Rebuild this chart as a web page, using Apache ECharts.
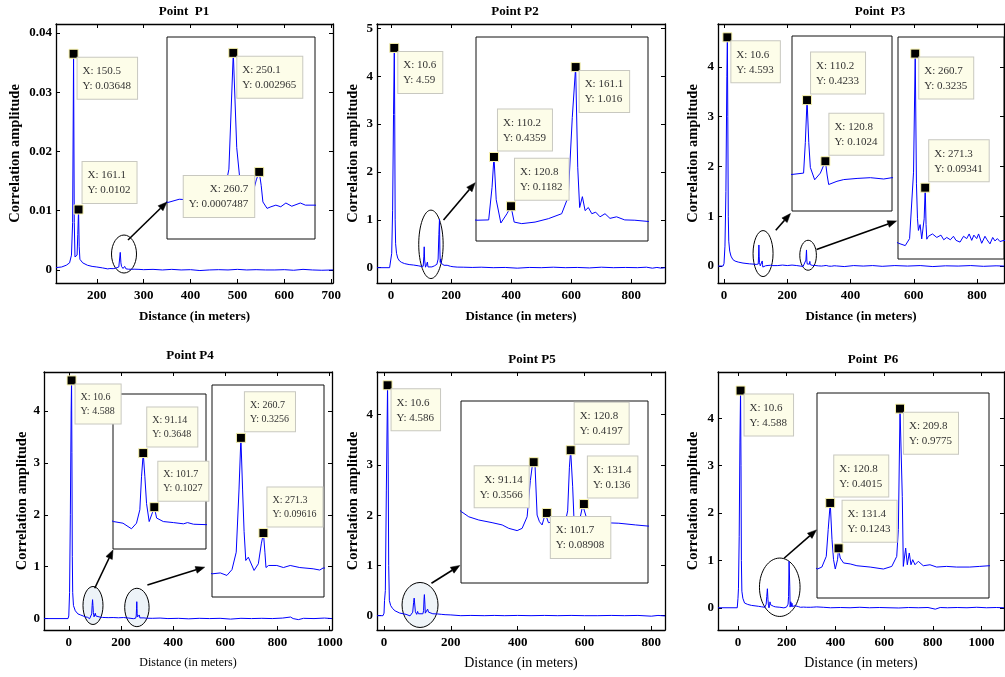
<!DOCTYPE html>
<html>
<head>
<meta charset="utf-8">
<script src="https://cdn.jsdelivr.net/npm/echarts@6/dist/echarts.min.js"></script>
<style>
  html, body { margin: 0; padding: 0; background: #fff; }
  #main { width: 1005px; height: 677px; }
</style>
</head>
<body>
<div id="main"></div>
<script>
// ---- data: [distance (m), correlation amplitude] ----
const p1Curve = [[113,0.0004],[125,0.0005],[135,0.0008],[142,0.0012],[146,0.0025],[148.5,0.008],[150.5,0.03648],[152,0.008],[153.5,0.0022],[156,0.0021],[158,0.0025],[159.5,0.006],[161.1,0.0102],[162.5,0.004],[164,0.0018],[170,0.0012],[180,0.0008],[190,0.0006],[200,0.0005],[212,0.00035],
  [223.4,0.00018],[228,0.00024],[235,0.00022],[240,0.0003],[244,0.0004],[247,0.0005],[248.3,0.0008],[250.1,0.002965],[251.5,0.0012],[252.8,0.0006],[254,0.0003],[256,0.00025],[258.1,0.00035],[259.5,0.0006],[260.7,0.0007487],[261.5,0.0005],[262.2,0.00019],[263.9,0.00007],[265.5,0.0001],[267.5,0.00013],[269.5,0.0001],[271.6,0.00017],[274,0.00011],[277.5,0.00017],[279.6,0.00013],[283.5,0.00013],
  [290,0.0001],[300,0.00005],[320,0.0001],[340,0],[360,0.0001],[380,0],[400,0.00005],[420,-0.0001],[440,0],[460,0.00005],[480,0],[500,0.0001],[520,0],[540,0.00005],[560,0],[580,0],[600,0.00005],[620,-0.00005],[640,0.0001],[660,0],[680,-0.00005],[704,0]];
const p2Curve = [[-47,0],[-5,0],[-1,0.02],[2,0.3],[5,1.2],[8,3.2],[10.6,4.59],[12,3.2],[13.5,1.0],[15,0.5],[18,0.3],[22,0.2],[28,0.14],[35,0.11],[45,0.085],[60,0.065],[75,0.055],[90,0.04],
  [99.6,0.028],[106.9,0.03],[109,0.24],[110.2,0.4359],[111.6,0.16],[114.5,0.01],[118.3,0.07],[120.8,0.1182],[122.8,0.016],[127.5,0.006],[135.8,0.016],[144.1,0.038],[152.4,0.07],[156.5,0.18],[159,0.69],[161.1,1.016],[162.4,0.37],[163.6,0.11],[165.3,0.18],[167,0.09],[169,0.11],[171.2,0.07],[173.6,0.08],[176.3,0.05],[179.4,0.07],[182.5,0.04],[186.6,0.05],[191.7,0.03],[198,0.028],[206.3,0.02],
  [220,0.012],[240,0.01],[270,0.005],[300,0.01],[340,0],[380,0.005],[420,-0.01],[460,0.005],[500,0],[540,0.01],[580,0],[620,0.005],[660,-0.005],[700,0.01],[740,0],[780,0.005],[820,0],[850,0.01],[870,-0.01],[885,0.005],[900,-0.01],[912,0]];
const p3Curve = [[-19,0],[-3,0],[0,0.05],[3,0.4],[6,1.5],[9,3.8],[10.6,4.593],[12,3.0],[13.5,1.0],[15,0.5],[18,0.3],[22,0.2],[28,0.13],[35,0.1],[45,0.08],[60,0.06],[80,0.045],[95,0.038],
  [101.5,0.033],[108.2,0.04],[109.2,0.2],[110.2,0.4233],[111.2,0.2],[112.1,0.07],[114.6,0.005],[117.9,0.04],[120.8,0.1024],[121.8,0.03],[122.7,-0.02],[127.5,-0.003],[131.4,0.006],[139.1,0.012],[146.8,0.016],[154.5,0.009],[159.3,0.016],
  [170,0.01],[185,0.02],[200,0.01],[215,0.02],[230,0.01],
  [243,-0.002],[250.1,-0.006],[254.7,0.006],[258.9,0.12],[260.7,0.3235],[262,0.1],[263.1,0.04],[264.1,0.02],[265.9,0.03],[267.6,0.0055],[270.2,0.04],[271.3,0.09341],[272.2,0.03],[273,0.005],[274.7,0.01],[279,0.014],[283.6,0.008],[288,0.012],[291,0.004],[294.2,0.008],[298,0.004],[301.3,0.01],[304,0.003],[308.3,0],[312,0.01],[315.4,0.006],[318,0.014],[320.7,0.003],[323,0.012],[326,0.006],[328,0.014],[331.3,-0.002],[334.8,0.01],[337,0.004],[340.1,-0.003],[343,0.008],[345.4,0.002],[348,0.006],[350.7,0.001],[355,0.003],
  [380,-0.01],[410,0.01],[440,0],[470,0.01],[500,-0.005],[540,0.01],[580,0],[620,0.01],[660,-0.01],[700,0.005],[740,0],[780,0.01],[820,-0.005],[860,0.005],[885,0]];
const p4Curve = [[-95,0],[-3,0],[0,0.05],[3,0.5],[6,2.0],[9,4.0],[10.6,4.588],[12,3.2],[13.5,1.2],[15,0.5],[18,0.25],[25,0.15],[35,0.09],[45,0.07],[55,0.05],
  [62.8,0.033],[71.8,0.025],[79.9,-0.002],[84.7,0.025],[87.9,0.09],[89.5,0.25],[91.14,0.3648],[92.7,0.25],[94.3,0.12],[96.8,0.033],[99.1,0.065],[101.7,0.1027],[103.9,0.05],[110.3,0.033],[119.9,0.028],[129.5,0.022],[133.4,0.028],[139.1,0.02],[151,0.018],
  [170,0.02],[190,0.015],[210,0.02],[230,0.01],
  [247.4,-0.002],[251,0],[254.1,-0.006],[256.5,0.008],[258.5,0.05],[259.8,0.2],[260.7,0.3256],[261.5,0.2],[262.2,0.1],[263,0.03],[264.2,0.038],[265,0.034],[266.9,0.006],[268.9,0.022],[270.3,0.07],[271.3,0.09616],[272,0.05],[272.5,0.013],[273.7,0.018],[277.6,0.018],[280.7,0.013],[283.9,0.018],[288.4,0.013],[294.7,0.01],[297.8,0.007],[299.4,0.012],
  [320,0.005],[350,0.01],[380,0],[420,0.005],[460,-0.005],[500,0.005],[540,0],[580,0.005],[620,-0.01],[660,0.005],[700,0],[740,0.005],[780,0],[820,0.01],[850,0.03],[860,0],[880,-0.02],[900,0.005],[940,0],[980,0.01],[1009,0]];
const p5Curve = [[-21,0],[-3,0],[0,0.05],[1.5,0.3],[4,0.5],[7,2.5],[10.6,4.586],[12.5,3.0],[14,1.0],[16,0.3],[20,0.2],[26,0.14],
  [33.2,0.096],[39.1,0.069],[47.1,0.052],[57.8,0.038],[65.9,0.026],[71.2,0.008],[77.9,-0.004],[81.9,0.008],[85.9,0.069],[88.5,0.26],[90.3,0.35],[91.14,0.3566],[92.3,0.33],[93.9,0.078],[95.8,0.043],[97.9,0.026],[99.2,0.056],[100.5,0.085],[101.7,0.08908],[103,0.038],[108.4,0.043],[116.4,0.038],[118.4,0.1],[119.8,0.33],[120.8,0.4197],[122.4,0.23],[123.5,0.05],[125.9,0.043],[128.6,0.07],[130.5,0.13],[131.4,0.136],[133.2,0.07],[135.4,0.038],[146.1,0.038],[159.4,0.035],[172.8,0.026],[182.8,0.02],
  [200,0.015],[230,0],[260,0.005],[300,0],[330,0.005],[360,0],[400,0.005],[440,0],[480,0.005],[520,0],[560,0.005],[600,0],[640,0],[680,0.005],[720,0],[760,0.005],[800,-0.01],[820,0.005],[841,-0.005]];
const p6Curve = [[-82,0],[-3,0],[0,0.2],[2,0.4],[5,1.5],[8,3.5],[10.6,4.588],[12.5,3.0],[14,1.0],[16,0.35],[20,0.2],[27,0.1],[40,0.07],[55,0.05],[70,0.04],[85,0.03],[97,0.02],
  [104.5,-0.002],[110.1,0.01],[115.7,0.075],[118.2,0.24],[120.8,0.4015],[123,0.18],[125,0.055],[127.2,-0.002],[130.1,0.055],[131.4,0.1243],[133.5,0.065],[137.8,0.035],[146.3,0.029],[154.8,0.018],[171.7,0.01],[188.6,-0.002],[199.3,0.014],[205.6,0.075],[207.7,0.24],[209.8,0.9775],[212.7,0.44],[214,0.014],[217,0.126],[219.1,0.024],[221.6,0.096],[223.8,0.024],[226,0.055],[228.9,0.024],[233.1,0.045],[239.5,0.018],[248,0.024],[256.5,0.01],[269.2,0.014],[281.9,0.01],[298.8,0.01],[311.5,0.014],[323.3,0.018],
  [350,0.01],[380,0],[420,0.005],[460,0],[500,0.01],[540,0],[580,0.005],[620,0],[660,-0.005],[700,0.005],[740,0],[780,0.005],[810,-0.03],[830,0.005],[860,0],[900,0.005],[940,0],[980,0.01],[1020,0],[1060,0.005],[1092,0]];

// data tips (X, Y) as printed on the picture
const p1Tips = [[150.5,0.03648],[161.1,0.0102],[250.1,0.002965],[260.7,0.0007487]];
const p2Tips = [[10.6,4.59],[110.2,0.4359],[120.8,0.1182],[161.1,1.016]];
const p3Tips = [[10.6,4.593],[110.2,0.4233],[120.8,0.1024],[260.7,0.3235],[271.3,0.09341]];
const p4Tips = [[10.6,4.588],[91.14,0.3648],[101.7,0.1027],[260.7,0.3256],[271.3,0.09616]];
const p5Tips = [[10.6,4.586],[91.14,0.3566],[101.7,0.08908],[120.8,0.4197],[131.4,0.136]];
const p6Tips = [[10.6,4.588],[120.8,0.4015],[131.4,0.1243],[209.8,0.9775]];

// tick labels
const p1XTicks = [200,300,400,500,600,700];
const p1YTicks = [0,0.01,0.02,0.03,0.04];
const p2XTicks = [0,200,400,600,800];
const p2YTicks = [0,1,2,3,4,5];
const p3XTicks = [0,200,400,600,800];
const p3YTicks = [0,1,2,3,4];
const p4XTicks = [0,200,400,600,800,1000];
const p4YTicks = [0,1,2,3,4];
const p5XTicks = [0,200,400,600,800];
const p5YTicks = [0,1,2,3,4];
const p6XTicks = [0,200,400,600,800,1000];
const p6YTicks = [0,1,2,3,4];

// ---- layout (pixels / axis ranges / annotation placement) ----
const SERIF = "'Liberation Serif', 'Times New Roman', serif";
const panels = [
  { title: 'Point  P1', tc: [184, 5], curve: p1Curve, tips: p1Tips, xt: p1XTicks, yt: p1YTicks,
    box: [56, 24, 277, 259], x: [113, 704], y: [-0.0022, 0.0415], yGap: 33, xGap: 27, xName: {w: 'bold', s: 13},
    insets: [{ box: [167, 37, 148, 202], x: [223, 283.5], y: [-0.0005, 0.00326] }],
    place: [[0, 'br'], [0, 'tr'], [1, 'br'], [1, 'l']], tipFont: 11,
    rings: [[258.1, 0.00269, 12.5, 19]], arrows: [[266.6, 0.00506, 349.8, 0.01147]], ringFill: 'none' },
  { title: 'Point P2', tc: [515, 5], curve: p2Curve, tips: p2Tips, xt: p2XTicks, yt: p2YTicks,
    box: [377, 24, 288, 259], x: [-47, 912], y: [-0.32, 5.09], yGap: 16, xGap: 27, xName: {w: 'bold', s: 13},
    insets: [{ box: [476, 37, 172, 204], x: [99, 206.2], y: [-0.106, 1.21] }],
    place: [[0, 'br'], [1, 'tr'], [1, 'tr'], [1, 'br']], tipFont: 11,
    rings: [[132.6, 0.488, 12.2, 34.2]], arrows: [[174.5, 0.996, 280, 1.775]], ringFill: 'none' },
  { title: 'Point  P3', tc: [880, 5], curve: p3Curve, tips: p3Tips, xt: p3XTicks, yt: p3YTicks,
    box: [718, 24, 286, 259], x: [-19, 885], y: [-0.34, 4.86], yGap: 17, xGap: 27, xName: {w: 'bold', s: 13},
    insets: [{ box: [792, 36, 100, 175], x: [101.5, 159.3], y: [-0.159, 0.76] },
             { box: [898, 37, 106, 222], x: [242.4, 355], y: [-0.029, 0.352] }],
    place: [[0, 'br'], [1, 'tr'], [1, 'tr'], [2, 'br'], [2, 'tr']], tipFont: 11,
    rings: [[123.4, 0.251, 10, 23], [265.8, 0.217, 8.3, 15]],
    arrows: [[163.6, 0.719, 210.1, 1.055], [292.4, 0.331, 545.5, 0.906]], ringFill: 'none' },
  { title: 'Point P4', tc: [190, 349], curve: p4Curve, tips: p4Tips, xt: p4XTicks, yt: p4YTicks,
    box: [44, 372, 288, 258], x: [-95, 1009], y: [-0.22, 4.75], yGap: 10, xGap: 27, xName: {w: 'normal', s: 12},
    insets: [{ box: [113, 394, 93, 155], x: [62.3, 151], y: [-0.1, 0.651] },
             { box: [212, 385, 112, 212], x: [247.1, 299.8], y: [-0.058, 0.453] }],
    place: [[0, 'br'], [1, 'tr'], [1, 'tr'], [2, 'tr'], [2, 'tr']], tipFont: 10,
    rings: [[92.8, 0.252, 10, 19], [261.1, 0.214, 12.2, 19.2]],
    arrows: [[99.4, 0.584, 169.5, 1.323], [301.4, 0.648, 521, 0.99]], ringFill: '#edf3f8' },
  { title: 'Point P5', tc: [532, 353], curve: p5Curve, tips: p5Tips, xt: p5XTicks, yt: p5YTicks,
    box: [377, 372, 288, 258], x: [-21, 841], y: [-0.285, 4.85], yGap: 16, xGap: 26, xName: {w: 'normal', s: 14},
    insets: [{ box: [461, 401, 187, 182], x: [32.9, 182.8], y: [-0.28, 0.679] }],
    place: [[0, 'br'], [1, 'l'], [1, 'br'], [1, 'tr'], [1, 'tr']], tipFont: 11,
    rings: [[107.8, 0.213, 18, 22.5]], arrows: [[142, 0.646, 226.8, 1.0]], ringFill: '#eff4f8' },
  { title: 'Point  P6', tc: [873, 353], curve: p6Curve, tips: p6Tips, xt: p6XTicks, yt: p6YTicks,
    box: [718, 372, 286, 258], x: [-82, 1092], y: [-0.47, 4.98], yGap: 17, xGap: 26, xName: {w: 'normal', s: 14},
    insets: [{ box: [817, 393, 172, 205], x: [103.9, 323.3], y: [-0.179, 1.073] }],
    place: [[0, 'br'], [1, 'tr'], [1, 'tr'], [1, 'br']], tipFont: 11,
    rings: [[171.5, 0.433, 20.3, 29.2]], arrows: [[189.2, 1.046, 322.3, 1.645]], ringFill: 'none' }
];

const chart = echarts.init(document.getElementById('main'), null, { renderer: 'canvas' });

const grids = [], xAxes = [], yAxes = [], series = [], titles = [];
const mainGrid = [];

function tickFont() {
  return { fontFamily: SERIF, fontWeight: 'bold', fontSize: 13, color: '#000',
    formatter: function (v) { return String(v); } };
}
function frameAxis(extra) {
  return Object.assign({
    type: 'value', scale: true,
    axisLine: { show: true, onZero: false, lineStyle: { color: '#000', width: 1.3 } },
    splitLine: { show: false }
  }, extra);
}
function tipLabel(pos, size) {
  const base = {
    show: true,
    formatter: function (p) { return 'X: ' + p.value[0] + '\nY: ' + p.value[1]; },
    fontFamily: SERIF, fontSize: size, color: '#333', lineHeight: size + 4,
    backgroundColor: '#fdfde9', borderColor: '#c8c8c0', borderWidth: 1,
    padding: [6, 6, 5, 5]
  };
  if (pos === 'br') return Object.assign(base, { position: [9, 9], align: 'left', verticalAlign: 'top' });
  if (pos === 'tr') return Object.assign(base, { position: [9, -1.5], align: 'left', verticalAlign: 'bottom' });
  return Object.assign(base, { position: [0, 9], align: 'right', verticalAlign: 'top' });
}

panels.forEach(function (p) {
  const gi = grids.length;
  grids.push({ left: p.box[0], top: p.box[1], width: p.box[2], height: p.box[3], show: false, outerBoundsMode: 'none' });
  const xi = xAxes.length, yi = yAxes.length;
  xAxes.push(frameAxis({
    gridIndex: gi, position: 'bottom', min: p.x[0], max: p.x[1],
    axisTick: { show: true, inside: true, length: 4, customValues: p.xt, lineStyle: { color: '#000' } },
    axisLabel: Object.assign({ customValues: p.xt, margin: 6 }, tickFont()),
    name: 'Distance (in meters)', nameLocation: 'middle', nameGap: p.xGap,
    nameTextStyle: { fontFamily: SERIF, fontWeight: p.xName.w, fontSize: p.xName.s, color: '#000' }
  }));
  xAxes.push(frameAxis({
    gridIndex: gi, position: 'top', min: p.x[0], max: p.x[1],
    axisTick: { show: true, inside: true, length: 4, customValues: p.xt, lineStyle: { color: '#000' } },
    axisLabel: { show: false }
  }));
  yAxes.push(frameAxis({
    gridIndex: gi, position: 'left', min: p.y[0], max: p.y[1],
    axisTick: { show: true, inside: true, length: 4, customValues: p.yt, lineStyle: { color: '#000' } },
    axisLabel: Object.assign({ customValues: p.yt, margin: 4 }, tickFont()),
    name: 'Correlation amplitude', nameLocation: 'middle', nameGap: p.yGap,
    nameTextStyle: { fontFamily: SERIF, fontWeight: 'bold', fontSize: 14.5, color: '#000' }
  }));
  yAxes.push(frameAxis({
    gridIndex: gi, position: 'right', min: p.y[0], max: p.y[1],
    axisTick: { show: true, inside: true, length: 4, customValues: p.yt, lineStyle: { color: '#000' } },
    axisLabel: { show: false }
  }));
  titles.push({
    text: p.title, left: p.tc[0], top: p.tc[1], textAlign: 'center', padding: 0,
    textStyle: { fontFamily: SERIF, fontWeight: 'bold', fontSize: 13, color: '#000' }
  });
  series.push({
    type: 'line', xAxisIndex: xi, yAxisIndex: yi, data: p.curve,
    showSymbol: false, symbol: 'none', silent: true, z: 3,
    lineStyle: { color: '#0000ff', width: 1 }
  });
  const axisSets = [[xi, yi]];
  p.insets.forEach(function (ins) {
    const g2 = grids.length;
    grids.push({ left: ins.box[0], top: ins.box[1], width: ins.box[2], height: ins.box[3],
      show: true, backgroundColor: '#fff', borderColor: '#111', borderWidth: 1, outerBoundsMode: 'none' });
    const ix = xAxes.length, iy = yAxes.length;
    xAxes.push({ gridIndex: g2, type: 'value', min: ins.x[0], max: ins.x[1], show: false });
    yAxes.push({ gridIndex: g2, type: 'value', min: ins.y[0], max: ins.y[1], show: false });
    series.push({
      type: 'line', xAxisIndex: ix, yAxisIndex: iy, data: p.curve, clip: true,
      showSymbol: false, symbol: 'none', silent: true, z: 4,
      lineStyle: { color: '#0000ff', width: 1 }
    });
    axisSets.push([ix, iy]);
  });
  // data tip markers grouped by the grid they sit in
  axisSets.forEach(function (ax, k) {
    const items = [];
    p.tips.forEach(function (t, ti) {
      if (p.place[ti][0] === k) {
        items.push({ value: [t[0], t[1]], label: tipLabel(p.place[ti][1], p.tipFont) });
      }
    });
    if (items.length) {
      series.push({
        type: 'scatter', xAxisIndex: ax[0], yAxisIndex: ax[1], data: items,
        symbol: 'rect', symbolSize: 9, silent: true, z: 6,
        itemStyle: { color: '#000', opacity: 1, borderColor: '#fbf6b0', borderWidth: 1 }
      });
    }
  });
  mainGrid.push(gi);
});

chart.setOption({
  animation: false,
  backgroundColor: '#fff',
  title: titles,
  grid: grids,
  xAxis: xAxes,
  yAxis: yAxes,
  series: series
});

// ellipses and arrows placed from data coordinates of each main plot
const graphics = [];
panels.forEach(function (p, pi) {
  const gq = { gridIndex: mainGrid[pi] };
  p.rings.forEach(function (r) {
    const c = chart.convertToPixel(gq, [r[0], r[1]]);
    graphics.push({
      type: 'ellipse', silent: true, z: 1,
      shape: { cx: c[0], cy: c[1], rx: r[2], ry: r[3] },
      style: { fill: p.ringFill, stroke: '#000', lineWidth: 1 }
    });
  });
  p.arrows.forEach(function (a) {
    const s = chart.convertToPixel(gq, [a[0], a[1]]);
    const e = chart.convertToPixel(gq, [a[2], a[3]]);
    const ang = Math.atan2(e[1] - s[1], e[0] - s[0]);
    const len = 9, half = 3.5;
    const bx = e[0] - len * Math.cos(ang), by = e[1] - len * Math.sin(ang);
    const nx = -Math.sin(ang) * half, ny = Math.cos(ang) * half;
    graphics.push({
      type: 'line', silent: true, z: 10,
      shape: { x1: s[0], y1: s[1], x2: bx, y2: by },
      style: { stroke: '#000', lineWidth: 1.6 }
    });
    graphics.push({
      type: 'polygon', silent: true, z: 10,
      shape: { points: [[e[0], e[1]], [bx + nx, by + ny], [bx - nx, by - ny]] },
      style: { fill: '#000', stroke: '#000', lineWidth: 0.5 }
    });
  });
});
chart.setOption({ graphic: graphics });
</script>
</body>
</html>
